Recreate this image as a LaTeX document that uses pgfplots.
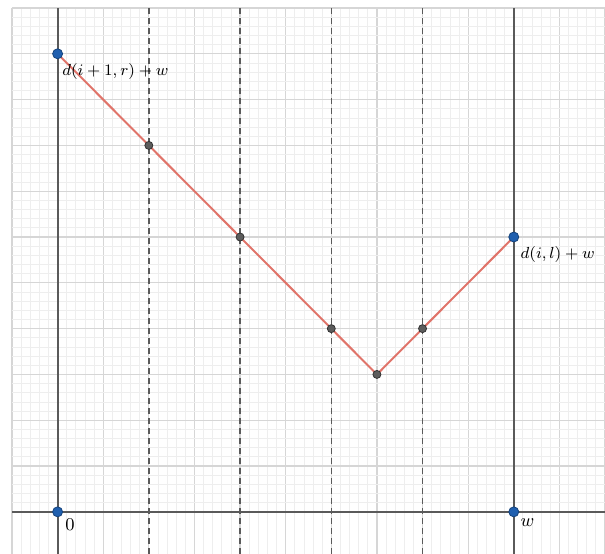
\documentclass[border=0pt]{standalone}
\usepackage{pgfplots}
\pgfplotsset{compat=1.18}
\definecolor{majgrid}{HTML}{D6D6D6}
\definecolor{mingrid}{HTML}{EEEEEE}
\definecolor{axcol}{HTML}{5A5A5A}
\definecolor{redline}{HTML}{E0746A}
\definecolor{bluept}{HTML}{1F5FAF}
\definecolor{graypt}{HTML}{5C5C5C}
\begin{document}
\begin{tikzpicture}
\begin{axis}[
  scale only axis,
  width=296.5pt, height=273pt,
  xmin=-1, xmax=12, ymin=-0.92, ymax=11,
  xtick={-1,0,...,12}, ytick={0,1,...,11},
  minor x tick num=4, minor y tick num=4,
  xticklabels={}, yticklabels={},
  major tick length=0pt, minor tick length=0pt,
  grid=both,
  major grid style={majgrid, line width=0.6pt},
  minor grid style={mingrid, line width=0.4pt},
  axis line style={draw=none},
  clip=false,
]
% axes and the w line
\addplot[axcol, line width=1pt] coordinates {(-1,0) (12,0)};
\addplot[axcol, line width=1pt] coordinates {(0,-0.92) (0,11)};
\addplot[axcol, line width=1pt] coordinates {(10,-0.92) (10,11)};
% dashed verticals
\addplot[axcol, line width=0.8pt, dash pattern=on 3pt off 2pt] coordinates {(2,-0.92) (2,11)};
\addplot[axcol, line width=0.8pt, dash pattern=on 3pt off 2pt] coordinates {(4,-0.92) (4,11)};
\addplot[axcol, line width=0.8pt, dash pattern=on 3pt off 2pt] coordinates {(6,-0.92) (6,11)};
\addplot[axcol, line width=0.8pt, dash pattern=on 3pt off 2pt] coordinates {(8,-0.92) (8,11)};
% red polyline
\addplot[redline, line width=1pt] coordinates {(0,10) (2,8) (4,6) (6,4) (7,3) (8,4) (10,6)};
% gray points
\addplot[only marks, mark=*, mark size=2pt, mark options={fill=graypt, draw=black!80, line width=0.4pt}] coordinates {(2,8) (4,6) (6,4) (7,3) (8,4)};
% blue points
\addplot[only marks, mark=*, mark size=2.5pt, mark options={fill=bluept, draw=bluept!70!black, line width=0.4pt}] coordinates {(0,10) (10,6) (0,0) (10,0)};
\node[anchor=north west, inner sep=1pt, font=\footnotesize] at (axis cs:0.05,9.85) {$d(i+1,r)+w$};
\node[anchor=north west, inner sep=1pt, font=\footnotesize] at (axis cs:10.1,5.85) {$d(i,l)+w$};
\node[anchor=north west, inner sep=1pt, font=\small] at (axis cs:0.12,-0.1) {$0$};
\node[anchor=north west, inner sep=1pt, font=\small] at (axis cs:10.1,-0.1) {$w$};
\end{axis}
\path (current axis.south west) ++(-6pt,0) coordinate (bl);
\path (current axis.north east) ++(0,4pt) coordinate (tr);
\pgfresetboundingbox
\path[use as bounding box] (bl) rectangle (tr);
\end{tikzpicture}
\end{document}
